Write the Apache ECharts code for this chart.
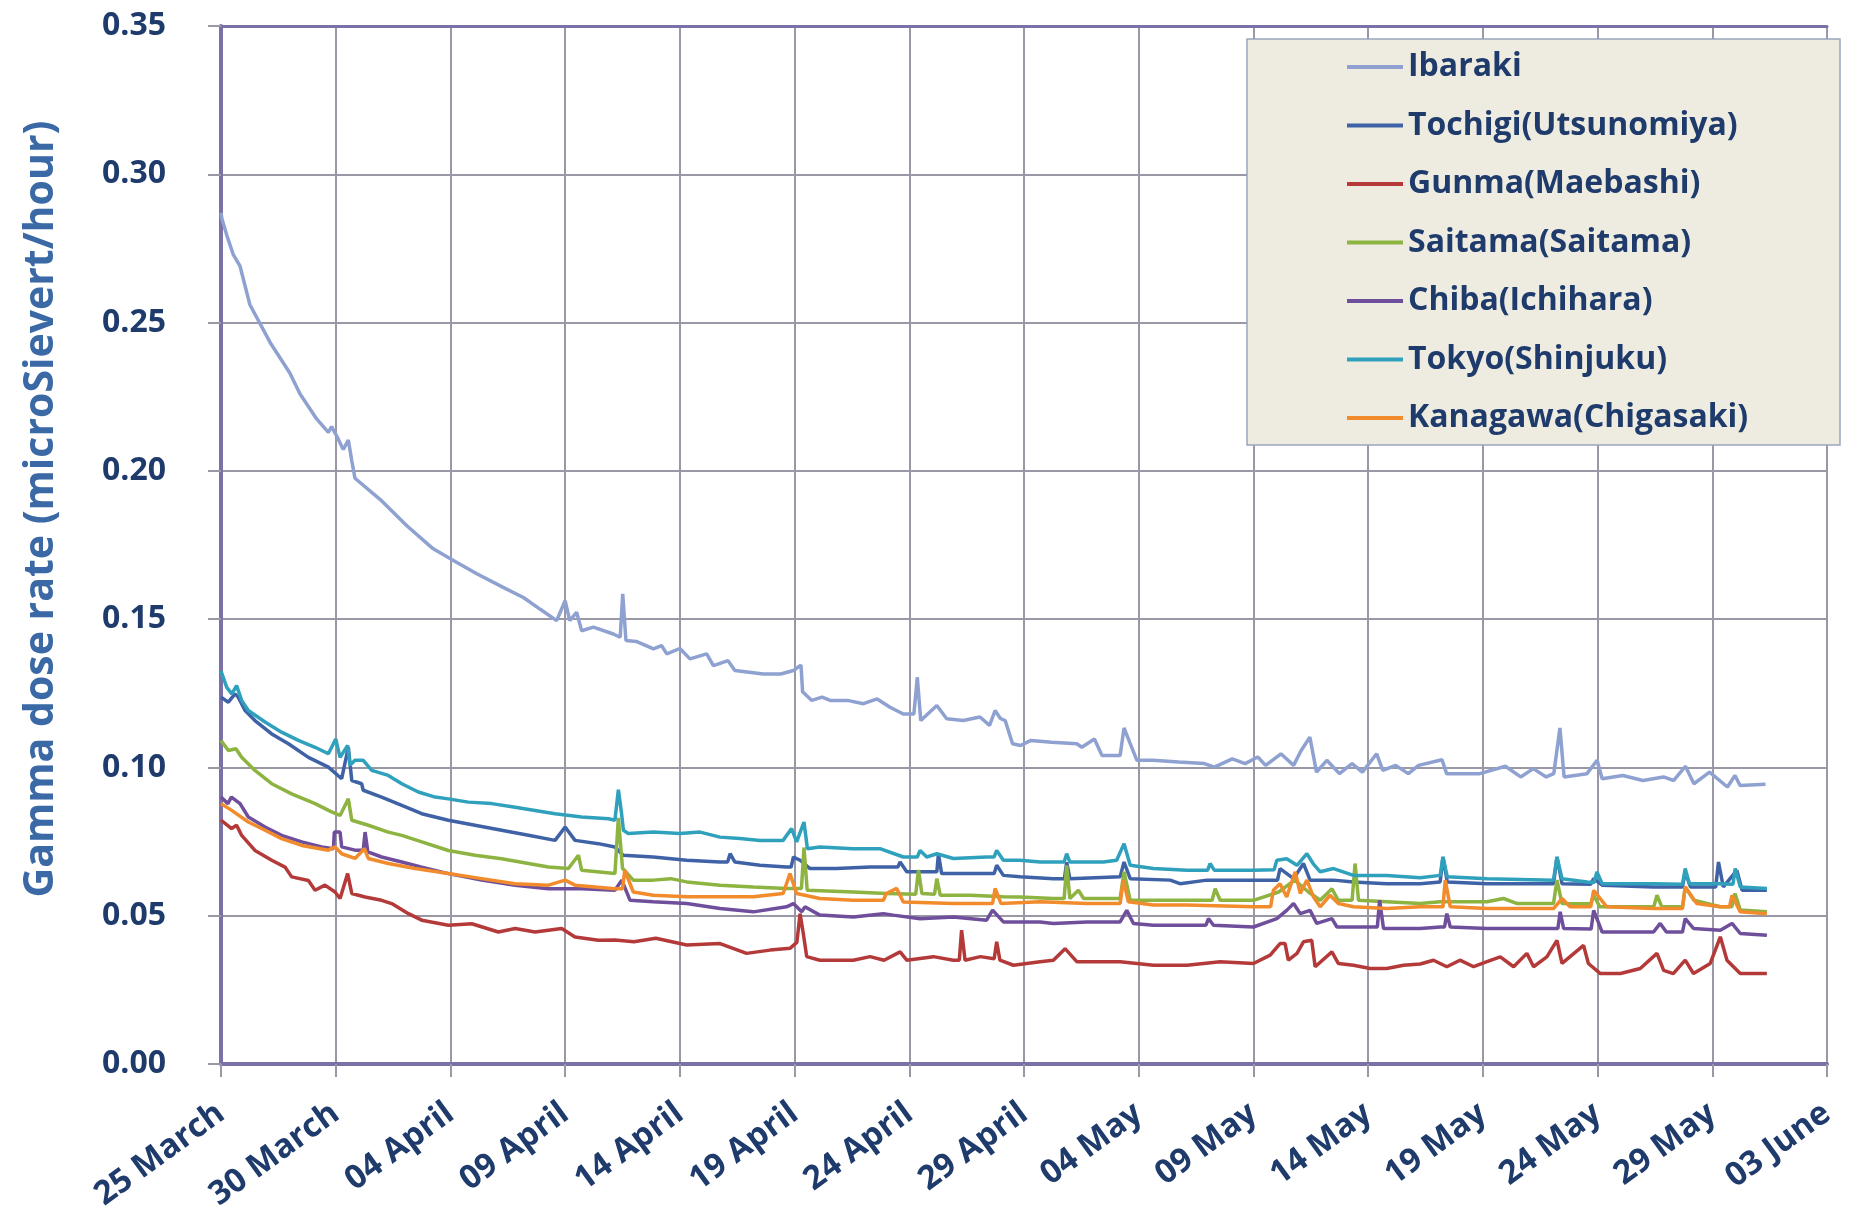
<!DOCTYPE html>
<html>
<head>
<meta charset="utf-8">
<title>Gamma dose rate</title>
<script src="https://cdn.jsdelivr.net/npm/echarts@6/dist/echarts.min.js"></script>
<style>
  html, body { margin: 0; padding: 0; background: #ffffff; }
  #chart { width: 1849px; height: 1213px; }
</style>
</head>
<body>
<div id="chart"></div>
<script>
// Days counted from 25 March 00:00; values in microSievert/hour.
const dateLabels = ['25 March', '30 March', '04 April', '09 April', '14 April', '19 April', '24 April',
  '29 April', '04 May', '09 May', '14 May', '19 May', '24 May', '29 May', '03 June'];

const seriesNames = ['Ibaraki', 'Tochigi(Utsunomiya)', 'Gunma(Maebashi)', 'Saitama(Saitama)',
  'Chiba(Ichihara)', 'Tokyo(Shinjuku)', 'Kanagawa(Chigasaki)'];

const ibaraki = [[0,0.287],[0.04,0.285],[0.25,0.2795],[0.53,0.273],[0.83,0.269],[1.26,0.256],[2.14,0.2433],
  [3.0,0.233],[3.44,0.226],[4.17,0.2175],[4.68,0.213],[4.82,0.2149],[5.04,0.2118],[5.33,0.2072],[5.55,0.2104],
  [5.7,0.2034],[5.84,0.1975],[6.93,0.1904],[8.1,0.1815],[9.25,0.1737],[10.13,0.1698],[11.15,0.1653],[12.3,0.1607],
  [13.18,0.1573],[13.9,0.1534],[14.63,0.1495],[15.0,0.1562],[15.2,0.1495],[15.5,0.1523],[15.72,0.1461],[16.23,0.1473],
  [17.1,0.145],[17.4,0.1439],[17.51,0.1585],[17.65,0.1428],[18.1,0.1425],[18.85,0.14],[19.2,0.1411],[19.43,0.1383],
  [20.0,0.1401],[20.44,0.1366],[21.17,0.1383],[21.46,0.1343],[22.1,0.136],[22.4,0.1327],[23.64,0.1315],[24.4,0.1315],
  [24.95,0.1327],[25.28,0.1345],[25.35,0.1255],[25.75,0.1226],[26.2,0.1237],[26.55,0.1226],[27.3,0.1226],[28.0,0.1215],
  [28.6,0.1231],[29.16,0.1203],[29.74,0.118],[30.2,0.118],[30.35,0.1304],[30.5,0.1158],[31.2,0.1209],[31.63,0.1164],
  [32.35,0.1158],[33.08,0.117],[33.5,0.1142],[33.74,0.1192],[33.97,0.1165],[34.18,0.1158],[34.5,0.108],[34.85,0.1074],
  [35.3,0.1091],[36.2,0.1085],[37.3,0.108],[37.52,0.1068],[38.07,0.1096],[38.4,0.104],[39.19,0.104],[39.36,0.1133],
  [39.63,0.108],[39.92,0.1024],[40.63,0.1024],[41.74,0.1018],[42.86,0.1013],[43.3,0.1001],[44.08,0.1029],[44.64,0.1013],
  [45.19,0.1035],[45.53,0.1007],[46.2,0.1046],[46.75,0.1007],[47.08,0.1057],[47.46,0.1102],[47.75,0.0984],[48.2,0.1024],
  [48.75,0.0979],[49.3,0.1013],[49.75,0.0984],[50.37,0.1046],[50.64,0.099],[51.2,0.1007],[51.75,0.0979],[52.2,0.1007],
  [53.22,0.1026],[53.42,0.0979],[54.87,0.0979],[55.98,0.1004],[56.65,0.0968],[57.2,0.0996],[57.76,0.0968],[58.09,0.0979],
  [58.36,0.1133],[58.54,0.0968],[59.54,0.0979],[59.98,0.1024],[60.2,0.0962],[61.1,0.0973],[61.98,0.0956],[62.87,0.0968],
  [63.32,0.0956],[63.83,0.1004],[64.2,0.0945],[64.88,0.0984],[65.66,0.0934],[65.99,0.0973],[66.21,0.0939],[67.32,0.0943]];

const tochigi = [[0,0.1237],[0.32,0.122],[0.61,0.1248],[0.75,0.1237],[1.05,0.1192],[1.48,0.1158],[2.21,0.1113],
  [2.94,0.108],[3.81,0.1034],[4.68,0.1001],[5.26,0.0962],[5.55,0.1068],[5.7,0.0956],[6.13,0.0945],[6.2,0.0923],
  [7.0,0.09],[7.88,0.0872],[8.75,0.0844],[9.91,0.0822],[11.07,0.0805],[12.23,0.0788],[13.4,0.0771],[14.56,0.0754],
  [15.0,0.0799],[15.43,0.0754],[16.45,0.0743],[17.17,0.0732],[17.53,0.0704],[18.84,0.0698],[20.3,0.0687],[21.75,0.0681],
  [22.08,0.0681],[22.19,0.0709],[22.4,0.0681],[23.49,0.067],[24.65,0.0664],[24.85,0.0664],[24.95,0.0698],[25.24,0.0687],
  [25.67,0.0659],[26.83,0.0659],[28.29,0.0664],[29.0,0.0664],[29.5,0.0664],[29.6,0.0681],[29.89,0.0648],[31.2,0.0648],
  [31.27,0.0709],[31.41,0.0642],[32.65,0.0642],[33.7,0.0642],[33.81,0.067],[34.1,0.0636],[34.83,0.0631],[36.28,0.0625],
  [36.76,0.0625],[36.86,0.068],[37.0,0.0625],[39.19,0.0631],[39.36,0.0681],[39.63,0.0625],[41.37,0.062],[41.8,0.0608],
  [42.97,0.062],[45.0,0.062],[46.05,0.062],[46.16,0.0659],[46.75,0.0625],[47.18,0.0676],[47.47,0.062],[48.49,0.062],
  [49.36,0.0614],[50.81,0.0608],[52.27,0.0608],[53.14,0.0614],[53.26,0.0698],[53.45,0.0614],[55.18,0.0608],[58.08,0.0608],
  [58.23,0.0698],[58.45,0.0608],[59.7,0.0606],[59.83,0.0625],[60.2,0.0603],[62.44,0.0597],[63.7,0.0597],[63.82,0.0648],
  [64.05,0.0597],[65.15,0.0597],[65.27,0.0681],[65.48,0.0597],[66.07,0.0653],[66.3,0.0586],[67.38,0.0586]];

const gunma = [[0,0.0822],[0.46,0.0794],[0.68,0.0805],[0.9,0.0771],[1.48,0.072],[2.21,0.0687],[2.79,0.0664],
  [3.08,0.0631],[3.81,0.0619],[4.1,0.0586],[4.53,0.0603],[4.97,0.058],[5.19,0.0558],[5.52,0.0642],[5.7,0.0575],
  [6.28,0.0563],[7.0,0.0552],[7.44,0.0541],[8.17,0.0507],[8.75,0.0485],[9.91,0.0468],[10.93,0.0473],[12.09,0.0445],
  [12.82,0.0457],[13.69,0.0445],[14.85,0.0457],[15.43,0.0428],[16.45,0.0417],[17.17,0.0418],[18.0,0.0412],[18.95,0.0424],
  [20.3,0.0401],[21.75,0.0406],[22.91,0.0373],[23.93,0.0384],[24.8,0.039],[25.1,0.041],[25.24,0.0507],[25.38,0.044],
  [25.53,0.0362],[26.1,0.035],[27.56,0.035],[28.29,0.0362],[28.9,0.035],[29.6,0.0378],[29.89,0.035],[31.05,0.0362],
  [31.92,0.035],[32.18,0.035],[32.28,0.0451],[32.43,0.035],[33.1,0.0362],[33.7,0.0355],[33.81,0.0412],[33.95,0.035],
  [34.54,0.0333],[35.7,0.0345],[36.28,0.035],[36.79,0.0389],[37.3,0.0345],[39.19,0.0345],[40.64,0.0333],[42.1,0.0333],
  [43.55,0.0345],[45.0,0.0339],[45.73,0.0367],[46.16,0.0406],[46.38,0.0406],[46.52,0.035],[46.9,0.0373],[47.18,0.0412],
  [47.54,0.0417],[47.69,0.0328],[48.42,0.0378],[48.7,0.0339],[49.36,0.0333],[50.09,0.0322],[50.81,0.0322],[51.54,0.0333],
  [52.27,0.0337],[52.85,0.035],[53.43,0.0328],[54.0,0.035],[54.6,0.0328],[55.18,0.0345],[55.76,0.0361],[56.34,0.0328],
  [56.92,0.0373],[57.21,0.0328],[57.79,0.0361],[58.23,0.0417],[58.45,0.0339],[59.39,0.04],[59.6,0.0339],[60.12,0.0305],
  [61.0,0.0305],[61.86,0.0322],[62.59,0.0373],[62.88,0.0316],[63.3,0.0305],[63.82,0.035],[64.18,0.0305],[64.91,0.0339],
  [65.35,0.0429],[65.64,0.035],[66.22,0.0305],[67.38,0.0305]];

const saitama = [[0,0.1091],[0.32,0.1057],[0.65,0.1063],[0.9,0.1034],[1.48,0.099],[2.21,0.0945],[3.08,0.0911],
  [4.1,0.0878],[4.82,0.085],[5.19,0.0838],[5.55,0.0894],[5.7,0.0822],[6.42,0.0805],[7.29,0.0782],[7.88,0.0771],
  [8.75,0.0749],[9.91,0.072],[11.07,0.0704],[12.23,0.0692],[13.4,0.0676],[14.27,0.0664],[15.14,0.0659],[15.58,0.0704],
  [15.72,0.0653],[17.17,0.0642],[17.32,0.083],[17.5,0.066],[17.97,0.062],[18.84,0.062],[19.6,0.0625],[20.3,0.0614],
  [21.75,0.0603],[23.2,0.0597],[24.65,0.0592],[25.3,0.0592],[25.41,0.073],[25.55,0.0586],[27.56,0.058],[29.0,0.0575],
  [30.28,0.0572],[30.4,0.0654],[30.55,0.0575],[31.1,0.0572],[31.2,0.0625],[31.35,0.0569],[32.65,0.0569],[34.1,0.0564],
  [34.83,0.0563],[36.28,0.0558],[36.75,0.0558],[36.86,0.067],[37.0,0.0558],[37.37,0.0586],[37.6,0.0558],[39.19,0.0558],
  [39.36,0.0648],[39.63,0.0552],[42.1,0.0552],[43.2,0.0552],[43.33,0.0591],[43.55,0.0552],[45.0,0.0552],[46.1,0.058],
  [46.8,0.062],[47.4,0.058],[47.91,0.0552],[48.42,0.0591],[48.7,0.0552],[49.3,0.0552],[49.43,0.0676],[49.58,0.0552],
  [50.81,0.0547],[52.27,0.0541],[53.14,0.0547],[55.18,0.0547],[55.9,0.0558],[56.5,0.0541],[58.08,0.0541],[58.23,0.062],
  [58.45,0.0541],[59.7,0.054],[59.83,0.0569],[60.1,0.053],[62.45,0.053],[62.59,0.0569],[62.8,0.053],[63.7,0.053],
  [63.82,0.0597],[64.2,0.0552],[65.35,0.053],[65.85,0.053],[65.99,0.0575],[66.22,0.0519],[67.38,0.0513]];

const chiba = [[0,0.09],[0.3,0.0878],[0.45,0.09],[0.83,0.0878],[1.19,0.0833],[1.92,0.0799],[2.64,0.0771],
  [3.52,0.0749],[4.39,0.0732],[4.9,0.0726],[4.94,0.0782],[5.19,0.0782],[5.26,0.0732],[5.84,0.0721],[6.2,0.0721],
  [6.28,0.0782],[6.4,0.0715],[7.0,0.0698],[7.88,0.0681],[8.75,0.0664],[9.91,0.0642],[11.36,0.062],[12.82,0.0603],
  [14.27,0.0591],[15.72,0.0591],[17.17,0.0586],[17.47,0.062],[17.83,0.0552],[18.84,0.0547],[20.3,0.0541],[21.75,0.0524],
  [23.2,0.0513],[24.65,0.053],[24.95,0.0541],[25.31,0.0513],[25.45,0.053],[26.1,0.0502],[27.56,0.0496],[28.87,0.0507],
  [29.3,0.0502],[30.47,0.049],[31.92,0.0496],[33.37,0.0485],[33.63,0.0519],[34.1,0.0479],[35.7,0.0479],[36.28,0.0474],
  [37.74,0.0479],[39.19,0.0479],[39.48,0.0518],[39.77,0.0474],[40.64,0.0468],[42.1,0.0468],[42.93,0.0468],[43.04,0.049],
  [43.26,0.0468],[45.0,0.0462],[46.02,0.049],[46.45,0.0518],[46.75,0.0541],[47.04,0.0507],[47.47,0.0518],[47.76,0.0474],
  [48.42,0.049],[48.64,0.0462],[50.09,0.0462],[50.4,0.0462],[50.5,0.0552],[50.67,0.0457],[52.27,0.0457],[53.14,0.0462],
  [53.33,0.0462],[53.43,0.0507],[53.58,0.0462],[55.18,0.0457],[58.08,0.0457],[58.27,0.0457],[58.37,0.0513],[58.52,0.0457],
  [59.72,0.0455],[59.83,0.0518],[60.2,0.0445],[62.44,0.0445],[62.73,0.0474],[63.0,0.0445],[63.7,0.0445],[63.82,0.049],
  [64.18,0.0457],[65.35,0.0451],[65.86,0.0474],[66.22,0.044],[67.38,0.0434]];

const tokyo = [[0,0.1325],[0.25,0.127],[0.47,0.1248],[0.68,0.1276],[0.9,0.1226],[1.19,0.1192],[1.92,0.1153],
  [2.64,0.1119],[3.37,0.1091],[4.1,0.1068],[4.68,0.1046],[5.0,0.1096],[5.19,0.1034],[5.52,0.1074],[5.62,0.1007],
  [5.84,0.1024],[6.2,0.1024],[6.57,0.099],[7.29,0.0973],[7.88,0.0945],[8.6,0.0917],[9.33,0.09],[9.91,0.0894],
  [10.78,0.0883],[11.8,0.0878],[12.82,0.0866],[13.69,0.0855],[14.56,0.0844],[15.72,0.0833],[16.89,0.0827],[17.17,0.0822],
  [17.32,0.0925],[17.45,0.085],[17.54,0.0788],[17.75,0.0777],[18.84,0.0782],[20.0,0.0777],[20.88,0.0782],[21.75,0.0765],
  [22.62,0.076],[23.49,0.0754],[24.5,0.0754],[24.87,0.0794],[25.09,0.0749],[25.41,0.0816],[25.56,0.0726],[26.1,0.0732],
  [27.56,0.0726],[28.72,0.0726],[29.74,0.0698],[30.35,0.0698],[30.47,0.072],[30.76,0.0698],[31.2,0.0709],[31.92,0.0693],
  [33.37,0.0698],[33.7,0.0698],[33.81,0.072],[34.1,0.0687],[34.83,0.0687],[35.7,0.0681],[36.75,0.0681],[36.86,0.0709],
  [37.0,0.0681],[38.46,0.0681],[39.04,0.0687],[39.36,0.0743],[39.63,0.067],[40.64,0.0659],[42.1,0.0653],[43.0,0.0653],
  [43.11,0.0676],[43.3,0.0653],[45.0,0.0653],[45.9,0.0655],[46.02,0.0687],[46.45,0.0692],[46.9,0.067],[47.33,0.0709],
  [47.6,0.0676],[47.91,0.0648],[48.49,0.0659],[49.36,0.0636],[50.81,0.0636],[52.27,0.0628],[53.14,0.0636],[53.26,0.0698],
  [53.45,0.0631],[55.18,0.0625],[58.08,0.062],[58.23,0.0698],[58.45,0.0625],[59.54,0.0614],[59.85,0.0612],[59.97,0.0648],
  [60.2,0.0608],[62.44,0.0608],[63.7,0.0606],[63.82,0.0659],[64.0,0.0608],[65.35,0.0608],[65.9,0.0606],[66.0,0.0659],
  [66.22,0.0597],[67.38,0.0592]];

const kanagawa = [[0,0.0878],[0.45,0.0856],[1.19,0.0816],[1.92,0.0788],[2.64,0.076],[3.52,0.0737],[4.68,0.0721],
  [4.97,0.0732],[5.26,0.0709],[5.84,0.0693],[6.25,0.0726],[6.42,0.0693],[7.29,0.0676],[8.46,0.0659],[9.91,0.0642],
  [11.36,0.0625],[12.82,0.0608],[14.27,0.0603],[15.0,0.062],[15.43,0.0603],[17.17,0.0591],[17.5,0.0591],[17.6,0.0653],
  [17.97,0.058],[18.84,0.0569],[20.3,0.0564],[23.2,0.0564],[24.5,0.0575],[24.8,0.0642],[25.09,0.0575],[26.1,0.0558],
  [27.56,0.0552],[28.87,0.0552],[29.0,0.0575],[29.45,0.0592],[29.74,0.0546],[31.92,0.0541],[33.37,0.0541],[33.63,0.0541],
  [33.74,0.0592],[34.0,0.0541],[35.7,0.0547],[37.74,0.0541],[39.19,0.0541],[39.33,0.062],[39.55,0.0547],[40.64,0.0536],
  [42.1,0.0536],[45.0,0.053],[45.75,0.053],[45.87,0.0586],[46.16,0.0608],[46.45,0.0563],[46.82,0.0648],[47.04,0.0575],
  [47.33,0.062],[47.62,0.0563],[47.91,0.053],[48.34,0.0569],[48.7,0.0541],[49.36,0.053],[50.81,0.0524],[52.27,0.053],
  [53.14,0.053],[53.26,0.053],[53.36,0.062],[53.58,0.053],[55.18,0.0524],[58.08,0.0524],[58.45,0.0558],[58.8,0.053],
  [59.7,0.053],[59.83,0.0586],[60.4,0.053],[62.44,0.0524],[63.7,0.0524],[63.82,0.0597],[64.32,0.0541],[65.35,0.053],
  [65.75,0.053],[65.86,0.0569],[66.22,0.0513],[67.38,0.0507]];

const seriesData = [ibaraki, tochigi, gunma, saitama, chiba, tokyo, kanagawa];
const seriesColors = ['#8EA1D0', '#3F62A6', '#B43A3A', '#8DB340', '#6F4F9C', '#30A1BD', '#F18B2C'];

const FONT = '"Open Sans", "Liberation Sans", sans-serif';
const NAVY = '#1E3B6C';
const AXIS_PURPLE = '#7B71A6';
const GRID_GRAY = '#9B98A6';

const chart = echarts.init(document.getElementById('chart'), null, { renderer: 'canvas' });

chart.setOption({
  animation: false,
  backgroundColor: '#ffffff',
  grid: { left: 221, right: 22, top: 26, bottom: 149, containLabel: false, outerBoundsMode: 'none' },
  xAxis: [{
    type: 'value', min: 0, max: 70, interval: 5,
    axisLine: { show: true, onZero: false, lineStyle: { color: AXIS_PURPLE, width: 4 } },
    axisTick: { show: true, inside: false, length: 13, lineStyle: { color: GRID_GRAY, width: 2 } },
    splitLine: { show: true, lineStyle: { color: GRID_GRAY, width: 2 } },
    axisLabel: {
      rotate: 36, margin: 46, color: NAVY, fontFamily: FONT, fontWeight: 'bold', fontSize: 33,
      formatter: v => dateLabels[Math.round(v / 5)] || ''
    }
  }, {
    type: 'value', min: 0, max: 70, position: 'top',
    axisLine: { show: true, onZero: false, lineStyle: { color: AXIS_PURPLE, width: 3 } },
    axisTick: { show: false }, axisLabel: { show: false }, splitLine: { show: false }
  }],
  yAxis: {
    type: 'value', min: 0, max: 0.35, interval: 0.05,
    axisLine: { show: true, lineStyle: { color: AXIS_PURPLE, width: 4 } },
    axisTick: { show: true, inside: false, length: 13, lineStyle: { color: GRID_GRAY, width: 2 } },
    splitLine: { show: true, lineStyle: { color: GRID_GRAY, width: 2 } },
    axisLabel: {
      margin: 55, color: NAVY, fontFamily: FONT, fontWeight: 'bold', fontSize: 32,
      formatter: v => v.toFixed(2)
    }
  },
  graphic: [
    {
      type: 'rect', z: 5,
      shape: { x: 1247, y: 39, width: 593, height: 406 },
      style: { fill: '#EEECE1', stroke: '#9AA5BE', lineWidth: 1.5 }
    },
    {
      type: 'text', z: 5, x: 41, y: 509, rotation: Math.PI / 2,
      style: {
        text: 'Gamma dose rate (microSievert/hour)',
        fill: '#3A69A6', font: 'bold 41px ' + FONT,
        align: 'center', verticalAlign: 'middle'
      }
    }
  ],
  legend: {
    z: 10, orient: 'vertical', left: 1347, top: 51, padding: 0,
    icon: 'rect', itemWidth: 56, itemHeight: 4, itemGap: 26.5, itemTextGap: 3,
    textStyle: { color: NAVY, fontFamily: FONT, fontWeight: 'bold', fontSize: 32, lineHeight: 32 },
    data: seriesNames
  },
  series: seriesNames.map((name, i) => ({
    name, type: 'line', data: seriesData[i], xAxisIndex: 0,
    showSymbol: false, symbol: 'none', smooth: false,
    lineStyle: { color: seriesColors[i], width: 3.5 },
    itemStyle: { color: seriesColors[i] },
    z: 2 + i * 0.01
  }))
});
</script>
</body>
</html>
